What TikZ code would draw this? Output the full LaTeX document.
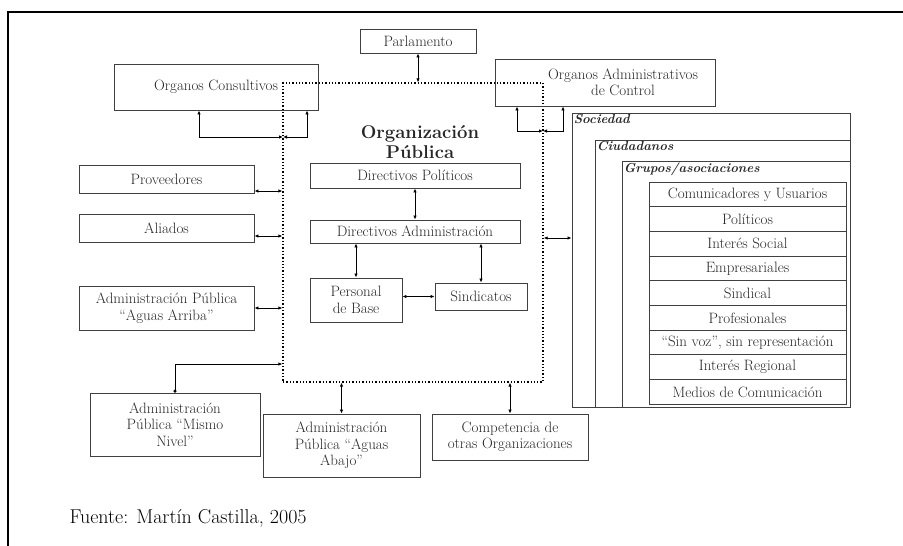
\documentclass[tikz,border=0pt]{standalone}
\usetikzlibrary{arrows.meta}
\begin{document}
\begin{tikzpicture}[x=1pt,y=-1pt, line join=miter,
    box/.style={draw=black!75, line width=0.9pt, inner sep=1pt, align=center,
      text=black!85, font=\fontsize{15}{16.5}\selectfont},
    row/.style={box, minimum width=197, minimum height=24.7},
    grp/.style={draw=black!75, line width=0.9pt, inner sep=0pt},
    lbl/.style={anchor=north west, inner sep=2pt, text=black!85,
      font=\fontsize{13}{15}\selectfont\bfseries\itshape},
    both/.style={line width=1pt, {Latex[length=4pt,width=3.5pt]}-{Latex[length=4pt,width=3.5pt]}},
    one/.style={line width=1pt, {Circle[length=3pt]}-{Latex[length=4pt,width=3.5pt]}}]
  \useasboundingbox (0,0) rectangle (903,546);
  % page frame
  \draw [line width=2.5pt] (8,546) -- (8,12) -- (903,12);

  % central organisation
  \node (org) [draw, dotted, line width=1.3pt, minimum width=260, minimum height=299] at (413,232.5) {};
  \node (title) [align=center, font=\fontsize{18.5}{20}\selectfont\bfseries, text=black!85] at (420,142) {Organización\\Pública};
  \node (dpol) [box, minimum width=210, minimum height=25] at (415,175.5) {Directivos Políticos};
  \node (dadm) [box, minimum width=210, minimum height=23] at (415,231.5) {Directivos Administración};
  \node (pbase) [box, minimum width=92, minimum height=44] at (356,300) {Personal\\de Base};
  \node (sind) [box, minimum width=92, minimum height=27] at (481,296.5) {Sindicatos};

  % surroundings
  \node (parl) [box, minimum width=116, minimum height=24] at (418,41) {Parlamento};
  \node (cons) [box, minimum width=204, minimum height=46] at (216,87) {Organos Consultivos};
  \node (ctrl) [box, minimum width=220, minimum height=47] at (605,82.5) {\hspace*{36pt}Organos Administrativos\\\hspace*{36pt}de Control};
  \node (prov) [box, minimum width=175, minimum height=28] at (166.5,179) {Proveedores};
  \node (alia) [box, minimum width=175, minimum height=28] at (166.5,228) {Aliados};
  \node (arriba) [box, minimum width=175, minimum height=44] at (166.5,308) {Administración Pública\\“Aguas Arriba”};
  \node (mismo) [box, minimum width=170, minimum height=63] at (175,424.5) {Administración\\Pública “Mismo\\Nivel”};
  \node (abajo) [box, minimum width=157, minimum height=63] at (341.5,445.5) {Administración\\Pública “Aguas\\Abajo”};
  \node (comp) [box, minimum width=156, minimum height=46] at (510,437) {Competencia de\\otras Organizaciones};

  % society
  \node (soc) [grp, minimum width=278, minimum height=294, label={[lbl]north west:Sociedad}] at (711,260) {};
  \node (ciu) [grp, minimum width=255, minimum height=267, label={[lbl]north west:Ciudadanos}] at (722.5,273.5) {};
  \node (grup) [grp, minimum width=228, minimum height=246, label={[lbl]north west:Grupos/asociaciones}] at (736,284) {};
  \foreach \t [count=\i] in {Comunicadores y Usuarios, Políticos, Interés Social, Empresariales,
      Sindical, Profesionales, {“Sin voz”, sin representación}, Interés Regional, Medios de Comunicación}
    \node (g\i) [row] at (747.5,169.65+24.7*\i) {\t};

  % junctions
  \coordinate (cj) at (283,137);
  \coordinate (kj) at (543,131);

  % connectors
  \draw [both] (parl.south) -- (parl.south |- org.north);
  \draw [both] ([xshift=-17]cons.south) |- (cj);
  \draw [both] ([xshift=91]cons.south) |- (cj);
  \draw [both] ([xshift=-88]ctrl.south) |- (kj);
  \draw [both] ([xshift=-42]ctrl.south) |- (kj);
  \draw [both] ([yshift=-12]prov.east) -- ([yshift=-12]prov.east -| org.west);
  \draw [both] ([yshift=-8]alia.east) -- ([yshift=-8]alia.east -| org.west);
  \draw [both] (arriba.east) -- (arriba.east -| org.west);
  \draw [one] (mismo.north) |- ([yshift=-131.5]org.west);
  \draw [both] (org.south -| abajo.north) -- (abajo.north);
  \draw [both] (org.south -| comp.north) -- (comp.north);
  \draw [both] ([yshift=-5.5]org.east) -- ([yshift=-5.5]org.east -| soc.west);
  \draw [both] (dpol.south) -- (dadm.north);
  \draw [both] (dadm.south -| pbase.north) -- (pbase.north);
  \draw [both] (dadm.south -| sind.north) -- (sind.north);
  \draw [both] (pbase.east |- sind.west) -- (sind.west);

  % source
  \node (src) [anchor=west, font=\fontsize{20}{22}\selectfont] at (66,518) {Fuente: Martín Castilla, 2005};
\end{tikzpicture}
\end{document}
